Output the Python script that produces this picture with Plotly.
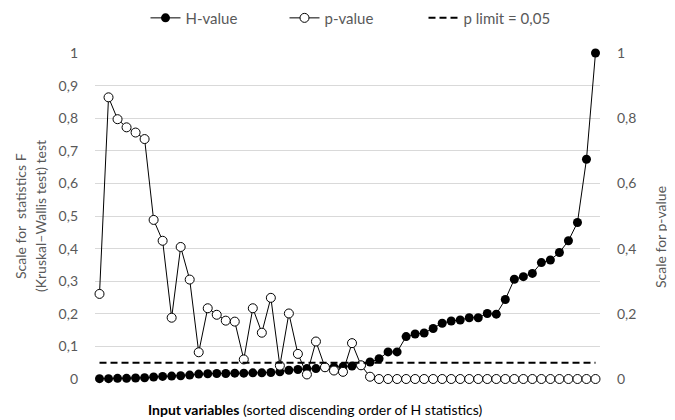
import plotly.graph_objects as go

categories = list(range(1, 57))

h_values = [0.001, 0.001, 0.002, 0.002, 0.003, 0.004, 0.006, 0.008, 0.009, 0.010,
            0.012, 0.015, 0.016, 0.017, 0.017, 0.018, 0.018, 0.019, 0.019, 0.020,
            0.022, 0.027, 0.029, 0.032, 0.032, 0.036, 0.036, 0.038, 0.040, 0.042,
            0.052, 0.062, 0.083, 0.083, 0.130, 0.138, 0.141, 0.155, 0.171, 0.178,
            0.181, 0.188, 0.188, 0.201, 0.199, 0.244, 0.306, 0.314, 0.324, 0.357,
            0.365, 0.388, 0.424, 0.480, 0.674, 1.000]

p_values = [0.261, 0.864, 0.797, 0.772, 0.756, 0.736, 0.488, 0.424, 0.188, 0.405,
            0.305, 0.082, 0.217, 0.197, 0.179, 0.176, 0.060, 0.217, 0.142, 0.249,
            0.041, 0.201, 0.077, 0.014, 0.115, 0.036, 0.026, 0.022, 0.110, 0.042,
            0.007] + [0.0] * 25

p_limit = [0.05] * len(categories)

left_ticks = [0, 0.1, 0.2, 0.3, 0.4, 0.5, 0.6, 0.7, 0.8, 0.9, 1]
left_labels = ["0", "0,1", "0,2", "0,3", "0,4", "0,5", "0,6", "0,7", "0,8", "0,9", "1"]
right_ticks = [0, 0.2, 0.4, 0.6, 0.8, 1]
right_labels = ["0", "0,2", "0,4", "0,6", "0,8", "1"]

FONT = "Lato"
TXT = "#595959"

fig = go.Figure()
fig.add_trace(go.Scatter(
    x=categories, y=h_values, name="H-value", mode="lines+markers",
    line=dict(color="black", width=1),
    marker=dict(symbol="circle", size=9, color="black"),
    cliponaxis=False,
))
fig.add_trace(go.Scatter(
    x=categories, y=p_values, name="p-value", mode="lines+markers", yaxis="y2",
    line=dict(color="black", width=1),
    marker=dict(symbol="circle", size=9, color="white", line=dict(color="black", width=1)),
    cliponaxis=False,
))
fig.add_trace(go.Scatter(
    x=categories, y=p_limit, name="p limit = 0,05", mode="lines", yaxis="y2",
    line=dict(color="black", width=2, dash="7px,4px"),
    cliponaxis=False,
))

fig.update_layout(
    width=667, height=412,
    margin=dict(l=87, r=75, t=45, b=41, pad=0, autoexpand=False),
    paper_bgcolor="white", plot_bgcolor="white",
    font=dict(family=FONT, size=14, color=TXT),
    showlegend=True,
    legend=dict(orientation="h", x=0.10, xanchor="left",
                y=1.107, yanchor="middle", font=dict(size=15, color=TXT),
                bgcolor="rgba(0,0,0,0)", entrywidth=94, entrywidthmode="pixels"),
    xaxis=dict(range=[0.5, 56.5], showgrid=False, zeroline=False,
               showticklabels=False, showline=False, ticks="", automargin=False),
    yaxis=dict(range=[0, 1], tickvals=left_ticks, ticktext=left_labels,
               showgrid=True, gridcolor="#d9d9d9", gridwidth=1, zeroline=False,
               showline=False, ticks="", ticklabelstandoff=16, automargin=False,
               tickfont=dict(size=14, color=TXT)),
    yaxis2=dict(range=[0, 1], tickvals=right_ticks, ticktext=right_labels,
                overlaying="y", side="right", showgrid=False, zeroline=False,
                showline=False, ticks="", ticklabelstandoff=16, automargin=False,
                tickfont=dict(size=14, color=TXT)),
    annotations=[
        dict(text="<b>Input variables</b> (sorted discending order of H statistics)",
             xref="paper", yref="paper", x=0.4376, y=-0.094, xanchor="center",
             yanchor="middle", showarrow=False, font=dict(size=14, color="black")),
        dict(text="Scale for  statistics F",
             xref="paper", yref="paper", x=-0.1485, y=0.5, xanchor="center",
             yanchor="middle", textangle=-90, showarrow=False,
             font=dict(size=14, color=TXT)),
        dict(text="(Kruskal–Wallis test) test",
             xref="paper", yref="paper", x=-0.1089, y=0.5, xanchor="center",
             yanchor="middle", textangle=-90, showarrow=False,
             font=dict(size=14, color=TXT)),
        dict(text="Scale for p-value",
             xref="paper", yref="paper", x=1.1208, y=0.4356, xanchor="center",
             yanchor="middle", textangle=-90, showarrow=False,
             font=dict(size=14, color=TXT)),
    ],
)

fig.write_html("out.html")
